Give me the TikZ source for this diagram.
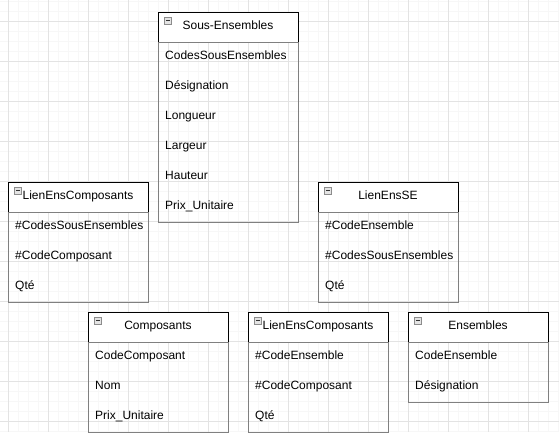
\documentclass[tikz,border=0pt]{standalone}
\usepackage{fontspec}
\setmainfont{Liberation Sans}
\definecolor{gridminor}{HTML}{F7F7F7}
\definecolor{gridmajor}{HTML}{E3E3E3}
\definecolor{bodygray}{HTML}{808080}
\definecolor{iconfill}{HTML}{E4E4E4}
\definecolor{icongray}{HTML}{8C8C8C}
\tikzset{
  hdr/.style={draw=black, line width=1pt, fill=white, minimum width=140pt, minimum height=30pt, inner sep=0pt},
  body/.style={draw=bodygray, line width=1pt, minimum width=140pt, inner sep=0pt},
  tabtitle/.style={inner sep=0pt, font=\fontsize{12}{14}\selectfont, text=black},
  fld/.style={inner sep=0pt, font=\fontsize{12}{14}\selectfont, text=black},
  minusicon/.style={draw=icongray, fill=iconfill, line width=0.8pt, minimum width=7pt, minimum height=7pt, inner sep=0pt},
  minusbar/.style={draw=black!80, line width=1pt},
  gridmin/.style={draw=gridminor, line width=1pt},
  gridmaj/.style={draw=gridmajor, line width=1pt}
}
\newcommand\umltab[6]{%
  \node[hdr, anchor=north west] (#1) at (#2,#3) {};
  \node[tabtitle, anchor=base] (#1-title) at (#2+70,#3+18) {#4};
  \node[minusicon, anchor=north west] (#1-icon) at (#2+6,#3+5) {};
  \draw[minusbar] ([xshift=1.5pt]#1-icon.west) -- ([xshift=-1.5pt]#1-icon.east);
  \node[body, anchor=north west, minimum height=#5*30pt] (#1-body) at (#2,#3+30) {};
  \foreach \f [count=\i] in {#6} {
    \node[fld, anchor=base west] (#1-f\i) at (#2+7,#3+30*\i+18) {\f};
  }
}
\begin{document}
\begin{tikzpicture}[x=1pt,y=-1pt]
\useasboundingbox (0,0) rectangle (559,432);
\fill[white] (0,0) rectangle (559,432);
% grid
\foreach \gx in {8,18,...,558} \draw[gridmin] (\gx,0) -- (\gx,432);
\foreach \gy in {1,11,...,431} \draw[gridmin] (0,\gy) -- (559,\gy);
\foreach \gx in {8,48,...,558} \draw[gridmaj] (\gx,0) -- (\gx,432);
\foreach \gy in {21,61,...,431} \draw[gridmaj] (0,\gy) -- (559,\gy);
% tables
\umltab{se}{158}{11.5}{Sous-Ensembles}{6}{CodesSousEnsembles,Désignation,Longueur,Largeur,Hauteur,Prix\_Unitaire}
\umltab{lec1}{8}{181.5}{LienEnsComposants}{3}{\#CodesSousEnsembles,\#CodeComposant,Qté}
\umltab{lse}{318}{181.5}{LienEnsSE}{3}{\#CodeEnsemble,\#CodesSousEnsembles,Qté}
\umltab{comp}{88}{311.5}{Composants}{3}{CodeComposant,Nom,Prix\_Unitaire}
\umltab{lec2}{248}{311.5}{LienEnsComposants}{3}{\#CodeEnsemble,\#CodeComposant,Qté}
\umltab{ens}{408}{311.5}{Ensembles}{2}{CodeEnsemble,Désignation}
\end{tikzpicture}
\end{document}
